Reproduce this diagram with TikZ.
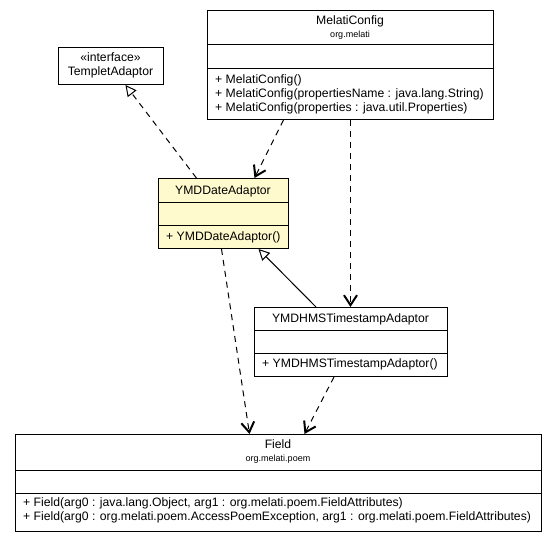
\documentclass[tikz,border=0pt]{standalone}
\usepackage{fontspec}
\setmainfont{Liberation Sans}
\usepackage{xcolor}
\usetikzlibrary{arrows.meta, positioning, calc}
\definecolor{classyellow}{HTML}{FFFACD}

\begin{document}
\begin{tikzpicture}[x=1pt, y=-1pt,
    font=\fontsize{12.2}{14}\selectfont,
    classbox/.style={draw=black, line width=1pt, fill=white, anchor=north west, inner sep=0pt},
    cname/.style={inner sep=0pt, anchor=base},
    pkg/.style={inner sep=0pt, anchor=base, font=\fontsize{9}{10}\selectfont},
    member/.style={inner sep=0pt, anchor=base west},
    dep/.style={line width=1pt, dash pattern=on 6pt off 5pt, -{Straight Barb[length=10pt,width=13pt,line width=2pt]}},
    realize/.style={line width=1pt, dash pattern=on 6pt off 5pt, -{Triangle[open,fill=white,length=11pt,width=11pt]}},
    extend/.style={line width=1pt, -{Triangle[open,fill=white,length=11pt,width=11pt]}}]
      \useasboundingbox (0,0) rectangle (557,541);

      % interface
      \node[classbox, minimum width=105pt, minimum height=37pt] (tmpl) at (58,47) {};
      \node[cname] (tmplst) at (110.5,61) {«interface»};
      \node[cname] (tmplname) at (110.5,75) {TempletAdaptor};

      % MelatiConfig
      \node[classbox, minimum width=286pt, minimum height=109pt] (cfg) at (207,10) {};
      \draw[line width=1pt] ([yshift=-34pt]cfg.north west) -- ([yshift=-34pt]cfg.north east);
      \draw[line width=1pt] ([yshift=-58pt]cfg.north west) -- ([yshift=-58pt]cfg.north east);
      \node[cname] (cfgname) at (350,24) {MelatiConfig};
      \node[pkg] (cfgpkg) at (350,37) {org.melati};
      \node[member] (cfgm1) at (215,83) {+ MelatiConfig()};
      \node[member] (cfgm2) at (215,97) {+ MelatiConfig(propertiesName : java.lang.String)};
      \node[member] (cfgm3) at (215,111) {+ MelatiConfig(properties : java.util.Properties)};

      % YMDDateAdaptor
      \node[classbox, fill=classyellow, minimum width=130pt, minimum height=70pt] (ymd) at (158,178) {};
      \draw[line width=1pt] ([yshift=-24pt]ymd.north west) -- ([yshift=-24pt]ymd.north east);
      \draw[line width=1pt] ([yshift=-47pt]ymd.north west) -- ([yshift=-47pt]ymd.north east);
      \node[cname] (ymdname) at (223,194) {YMDDateAdaptor};
      \node[member] (ymdm1) at (166,240) {+ YMDDateAdaptor()};

      % YMDHMSTimestampAdaptor
      \node[classbox, minimum width=193pt, minimum height=69pt] (hms) at (254,307) {};
      \draw[line width=1pt] ([yshift=-23pt]hms.north west) -- ([yshift=-23pt]hms.north east);
      \draw[line width=1pt] ([yshift=-46pt]hms.north west) -- ([yshift=-46pt]hms.north east);
      \node[cname] (hmsname) at (350.5,322) {YMDHMSTimestampAdaptor};
      \node[member] (hmsm1) at (262,367) {+ YMDHMSTimestampAdaptor()};

      % Field
      \node[classbox, minimum width=526pt, minimum height=97pt] (field) at (15,434) {};
      \draw[line width=1pt] ([yshift=-36pt]field.north west) -- ([yshift=-36pt]field.north east);
      \draw[line width=1pt] ([yshift=-59pt]field.north west) -- ([yshift=-59pt]field.north east);
      \node[cname] (fieldname) at (278,448) {Field};
      \node[pkg] (fieldpkg) at (278,461) {org.melati.poem};
      \node[member] (fieldm1) at (23,506) {+ Field(arg0 : java.lang.Object, arg1 : org.melati.poem.FieldAttributes)};
      \node[member] (fieldm2) at (23,520) {+ Field(arg0 : org.melati.poem.AccessPoemException, arg1 : org.melati.poem.FieldAttributes)};

      % relations
      \draw[realize] (ymd) -- (tmpl);
      \draw[dep] ([xshift=-67pt]cfg.south) -- ([xshift=31pt]ymd.north);
      \draw[dep] (cfg.south) -- (cfg.south |- hms.north);
      \draw[extend] ([xshift=-35pt]hms.north) -- ([xshift=35pt]ymd.south);
      \draw[dep] ([xshift=-2pt]ymd.south) -- ([xshift=-29pt]field.north);
      \draw[dep] ([xshift=-17pt]hms.south) -- ([xshift=26pt]field.north);

    \end{tikzpicture}
\end{document}
